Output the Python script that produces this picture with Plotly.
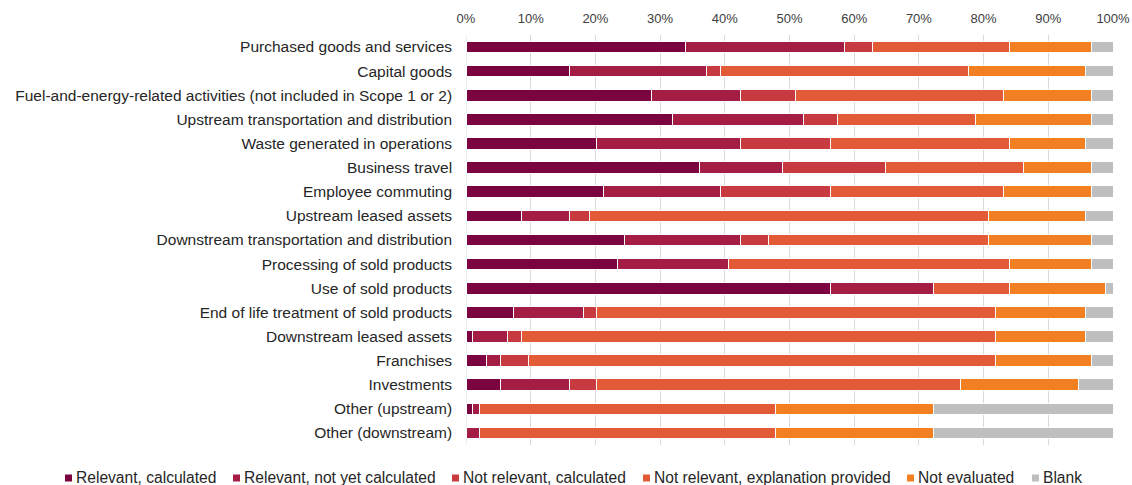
import plotly.graph_objects as go

categories = [
    "Purchased goods and services",
    "Capital goods",
    "Fuel-and-energy-related activities (not included in Scope 1 or 2)",
    "Upstream transportation and distribution",
    "Waste generated in operations",
    "Business travel",
    "Employee commuting",
    "Upstream leased assets",
    "Downstream transportation and distribution",
    "Processing of sold products",
    "Use of sold products",
    "End of life treatment of sold products",
    "Downstream leased assets",
    "Franchises",
    "Investments",
    "Other (upstream)",
    "Other (downstream)",
]

relevant_calculated = [34.0, 16.0, 28.7, 31.9, 20.2, 36.1, 21.3, 8.5, 24.5, 23.4, 56.3, 7.4, 1.0, 3.1, 5.3, 1.0, 0.0]
relevant_not_yet = [24.5, 21.2, 13.8, 20.2, 22.3, 12.8, 18.0, 7.5, 18.0, 17.1, 16.0, 10.7, 5.4, 2.2, 10.7, 1.1, 2.1]
not_relevant_calculated = [4.3, 2.1, 8.5, 5.3, 13.9, 15.9, 17.1, 3.1, 4.3, 0.0, 0.0, 2.0, 2.1, 4.3, 4.1, 0.0, 0.0]
not_relevant_explained = [21.2, 38.3, 32.0, 21.3, 27.6, 21.4, 26.6, 61.7, 34.0, 43.5, 11.7, 61.7, 73.3, 72.2, 56.4, 45.7, 45.7]
not_evaluated = [12.7, 18.1, 13.7, 18.0, 11.7, 10.5, 13.7, 14.9, 15.9, 12.7, 14.8, 13.9, 13.9, 14.9, 18.1, 24.5, 24.5]
blank = [3.3, 4.3, 3.3, 3.3, 4.3, 3.3, 3.3, 4.3, 3.3, 3.3, 1.2, 4.3, 4.3, 3.3, 5.4, 27.7, 27.7]

series_names = [
    "Relevant, calculated",
    "Relevant, not yet calculated",
    "Not relevant, calculated",
    "Not relevant, explanation provided",
    "Not evaluated",
    "Blank",
]
series_values = [relevant_calculated, relevant_not_yet, not_relevant_calculated,
                 not_relevant_explained, not_evaluated, blank]
colors = ["#7b0340", "#a31d45", "#c63a40", "#e35a36", "#f28023", "#bfbfbf"]

tick_vals = list(range(0, 101, 10))
tick_text = [f"{v}%" for v in tick_vals]

# ---- layout geometry (pixels) ----
W, H = 1132, 485
ML, MR, MT, MB = 466, 19, 35, 40
PW, PH = W - ML - MR, H - MT - MB


def px2x(px):
    return (px - ML) / PW


def py2y(py):
    return (H - MB - py) / PH


# manual legend placement: square left edge for each item
legend_square_left = [65, 233, 452, 643, 907, 1032]
legend_y = 477
sq = 7

fig = go.Figure()
for name, vals, col in zip(series_names, series_values, colors):
    fig.add_trace(go.Bar(
        y=categories, x=vals, name=name, orientation="h",
        marker=dict(color=col, line=dict(color="white", width=1)),
        showlegend=False,
    ))

shapes = [dict(type="line", xref="x", yref="paper", x0=0, x1=0, y0=0, y1=1,
               line=dict(color="#d9d9d9", width=1), layer="below")]
annotations = []
for name, col, left in zip(series_names, colors, legend_square_left):
    shapes.append(dict(type="rect", xref="paper", yref="paper",
                       x0=px2x(left), x1=px2x(left + sq),
                       y0=py2y(legend_y + sq / 2 + 1), y1=py2y(legend_y - sq / 2 + 1),
                       fillcolor=col, line=dict(width=0)))
    annotations.append(dict(text=name, xref="paper", yref="paper",
                            x=px2x(left + sq + 2), y=py2y(legend_y),
                            xanchor="left", yanchor="middle", showarrow=False,
                            font=dict(size=15.6, color="#262626")))

fig.update_layout(
    barmode="stack",
    bargap=0.52,
    width=W, height=H,
    margin=dict(l=ML, r=MR, t=MT, b=MB, autoexpand=False),
    paper_bgcolor="white", plot_bgcolor="white",
    font=dict(family="Liberation Sans, Arial, sans-serif", color="#404040"),
    showlegend=False,
    xaxis=dict(side="top", range=[0, 100], tickvals=tick_vals, ticktext=tick_text,
               showgrid=True, gridcolor="#d9d9d9", gridwidth=1, zeroline=False,
               tickfont=dict(size=13, color="#404040"), ticks="outside",
               ticklen=6, tickcolor="rgba(0,0,0,0)", fixedrange=True),
    yaxis=dict(autorange="reversed", tickfont=dict(size=15.5, color="#262626"),
               showgrid=False, showline=False, ticks="", ticksuffix="   "),
    shapes=shapes,
    annotations=annotations,
)

fig.write_html("out.html",
               config={"displayModeBar": False},
               post_script="document.body.style.margin='0';document.body.style.padding='0';")
